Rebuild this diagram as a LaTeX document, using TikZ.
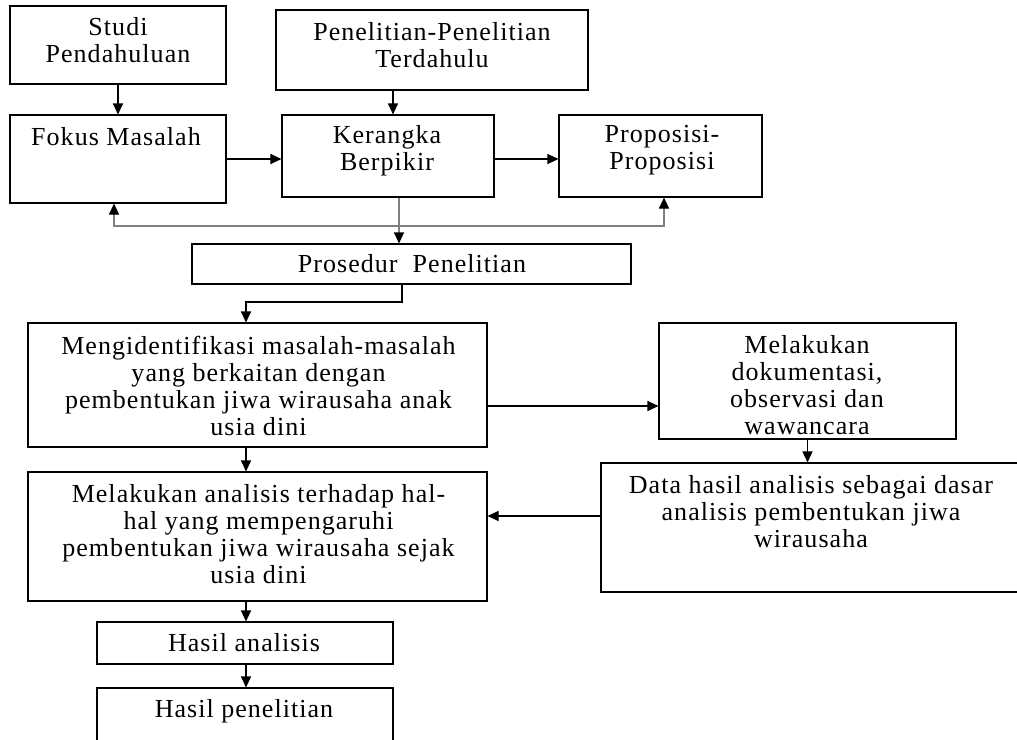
\documentclass[tikz,border=0pt]{standalone}
\usepackage{fontspec}
\setmainfont{Liberation Serif}[LetterSpace=4]
\usetikzlibrary{arrows.meta}

\tikzset{
  box/.style={draw, line width=1.1pt, rectangle, inner sep=0pt},
  txt/.style={align=center, inner sep=0pt, font=\fontsize{26}{27}\selectfont},
  arr/.style={line width=1.1pt, -{Triangle[length=11pt,width=10pt]}},
  garr/.style={line width=1.1pt, draw=black!50, -{Triangle[length=11pt,width=10pt,color=black]}}
}

\begin{document}
\begin{tikzpicture}[x=1pt, y=-1pt]
    \useasboundingbox (0,0) rectangle (1017,739);

    % top row
    \node[box, minimum width=216pt, minimum height=78pt] (studi) at (118,45) {};
    \node[txt] (studiT) at (118,40.5) {Studi\\Pendahuluan};
    \node[box, minimum width=312pt, minimum height=80pt] (terdahulu) at (432,50) {};
    \node[txt] (terdahuluT) at (432,45.5) {Penelitian-Penelitian\\Terdahulu};

    % second row
    \node[box, minimum width=216pt, minimum height=88pt] (fokus) at (118,159) {};
    \node[txt] (fokusT) at (116,137) {Fokus Masalah};
    \node[box, minimum width=212pt, minimum height=82pt] (kerangka) at (388,156) {};
    \node[txt] (kerangkaT) at (387,150.5) {Kerangka\\Berpikir};
    \node[box, minimum width=203pt, minimum height=82pt] (proposisi) at (660.5,156) {};
    \node[txt] (proposisiT) at (662,150.5) {Proposisi-\\Proposisi};

    \node[box, minimum width=439pt, minimum height=40pt] (prosedur) at (411.5,264) {};
    \node[txt] (prosedurT) at (412,263.5) {Prosedur~ Penelitian};

    % steps
    \node[box, minimum width=459pt, minimum height=124pt] (identifikasi) at (257.5,385) {};
    \node[txt] (identifikasiT) at (258.5,385.5) {Mengidentifikasi masalah-masalah\\yang berkaitan dengan\\pembentukan jiwa wirausaha anak\\usia dini};
    \node[box, minimum width=297pt, minimum height=116pt] (dokumentasi) at (807.5,381) {};
    \node[txt] (dokumentasiT) at (807,385.5) {Melakukan\\dokumentasi,\\observasi dan\\wawancara};
    \node[box, minimum width=419pt, minimum height=129pt] (datahasil) at (810.5,527.5) {};
    \node[txt] (datahasilT) at (811,511.5) {Data hasil analisis sebagai dasar\\analisis pembentukan jiwa\\wirausaha};
    \node[box, minimum width=459pt, minimum height=129pt] (analisis) at (257.5,536.5) {};
    \node[txt] (analisisT) at (258.5,534) {Melakukan analisis terhadap hal-\\hal yang mempengaruhi\\pembentukan jiwa wirausaha sejak\\usia dini};
    \node[box, minimum width=296pt, minimum height=42pt] (hasilanalisis) at (245,643) {};
    \node[txt] (hasilanalisisT) at (244,643) {Hasil analisis};
    \node[box, minimum width=296pt, minimum height=72pt] (hasilpenelitian) at (245,724) {};
    \node[txt] (hasilpenelitianT) at (244,711) {Hasil penelitian};

    \coordinate (split) at (399,226);
    \coordinate (spine) at (246,0);
    \coordinate (bend) at (402,302);

    % arrows
    \draw[arr] (studi) -- (fokus);
    \draw[arr] (terdahulu.south -| 393,0) -- (kerangka.north -| 393,0);
    \draw[arr] (fokus.east |- 0,159) -- (kerangka.west |- 0,159);
    \draw[arr] (kerangka.east |- 0,159) -- (proposisi.west |- 0,159);
    \draw[garr] (kerangka.south -| split) -- (split |- prosedur.north);
    \draw[garr] (split) -| (fokus.south -| 114,0);
    \draw[garr] (split) -| (proposisi.south -| 664,0);
    \draw[arr] (prosedur.south -| bend) -- (bend) -| (spine |- identifikasi.north);
    \draw[arr] (identifikasi.east |- 0,406) -- (dokumentasi.west |- 0,406);
    \draw[arr] (dokumentasi.south) -- (datahasil.north -| dokumentasi.south);
    \draw[arr] (datahasil.west |- 0,516) -- (analisis.east |- 0,516);
    \draw[arr] (spine |- identifikasi.south) -- (spine |- analisis.north);
    \draw[arr] (spine |- analisis.south) -- (spine |- hasilanalisis.north);
    \draw[arr] (spine |- hasilanalisis.south) -- (spine |- hasilpenelitian.north);
\end{tikzpicture}
\end{document}
